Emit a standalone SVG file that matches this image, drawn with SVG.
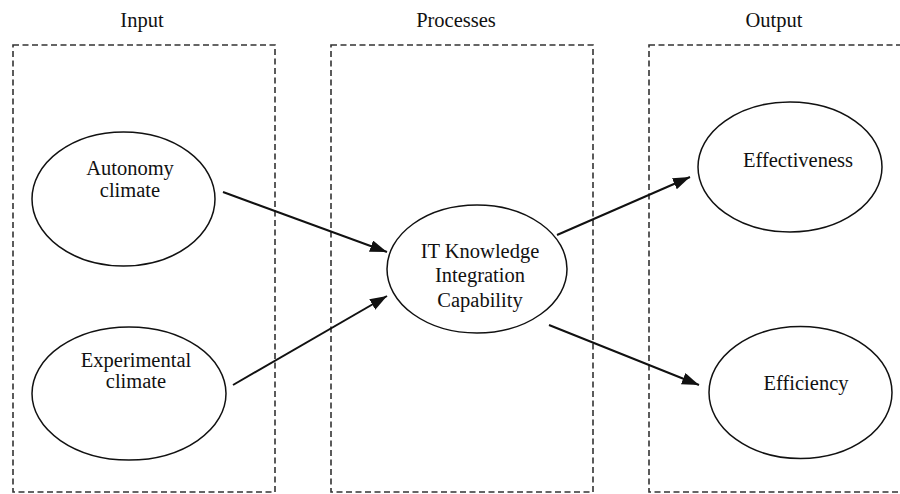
<svg xmlns="http://www.w3.org/2000/svg" width="900" height="494" viewBox="0 0 900 494">
<style>
.box{fill:none;stroke:#333;stroke-width:1.6;stroke-dasharray:6 3.5}
.node{fill:#fff;stroke:#111;stroke-width:1.5}
.lbl{font-family:"Liberation Serif","Times New Roman",serif;font-size:20.5px;fill:#111;text-anchor:middle}
.edge{stroke:#111;stroke-width:2;fill:none}
</style>
<defs>
<marker id="ah" markerUnits="userSpaceOnUse" markerWidth="20" markerHeight="14" refX="17" refY="6" orient="auto">
<path d="M0,0 L17,6 L0,12 z" fill="#111"/>
</marker>
</defs>
<g id="columns">
<rect class="box" x="13" y="45" width="262" height="447"/>
<rect class="box" x="331" y="45" width="262" height="447"/>
<rect class="box" x="649" y="45" width="262" height="447"/>
<text class="lbl" x="142" y="27">Input</text>
<text class="lbl" x="456" y="27">Processes</text>
<text class="lbl" x="774" y="27">Output</text>
</g>
<g id="connectors">
<line class="edge" x1="223" y1="192" x2="387" y2="252" marker-end="url(#ah)"/>
<line class="edge" x1="233" y1="385" x2="387" y2="296" marker-end="url(#ah)"/>
<line class="edge" x1="557" y1="235" x2="690" y2="177" marker-end="url(#ah)"/>
<line class="edge" x1="549" y1="325" x2="699" y2="385" marker-end="url(#ah)"/>
</g>
<g id="autonomy">
<ellipse class="node" cx="123.5" cy="199" rx="91.5" ry="67"/>
<text class="lbl" x="130" y="175">Autonomy</text>
<text class="lbl" x="130" y="197">climate</text>
</g>
<g id="experimental">
<ellipse class="node" cx="129" cy="393.5" rx="97" ry="66.5"/>
<text class="lbl" x="136" y="367">Experimental</text>
<text class="lbl" x="136" y="388">climate</text>
</g>
<g id="itkic">
<ellipse class="node" cx="477" cy="269" rx="90" ry="64"/>
<text class="lbl" x="480" y="258">IT Knowledge</text>
<text class="lbl" x="480" y="282">Integration</text>
<text class="lbl" x="480" y="307">Capability</text>
</g>
<g id="effectiveness">
<ellipse class="node" cx="790" cy="167" rx="92" ry="65"/>
<text class="lbl" x="798" y="167">Effectiveness</text>
</g>
<g id="efficiency">
<ellipse class="node" cx="800.5" cy="392.5" rx="91.5" ry="66"/>
<text class="lbl" x="806" y="390">Efficiency</text>
</g>
</svg>
